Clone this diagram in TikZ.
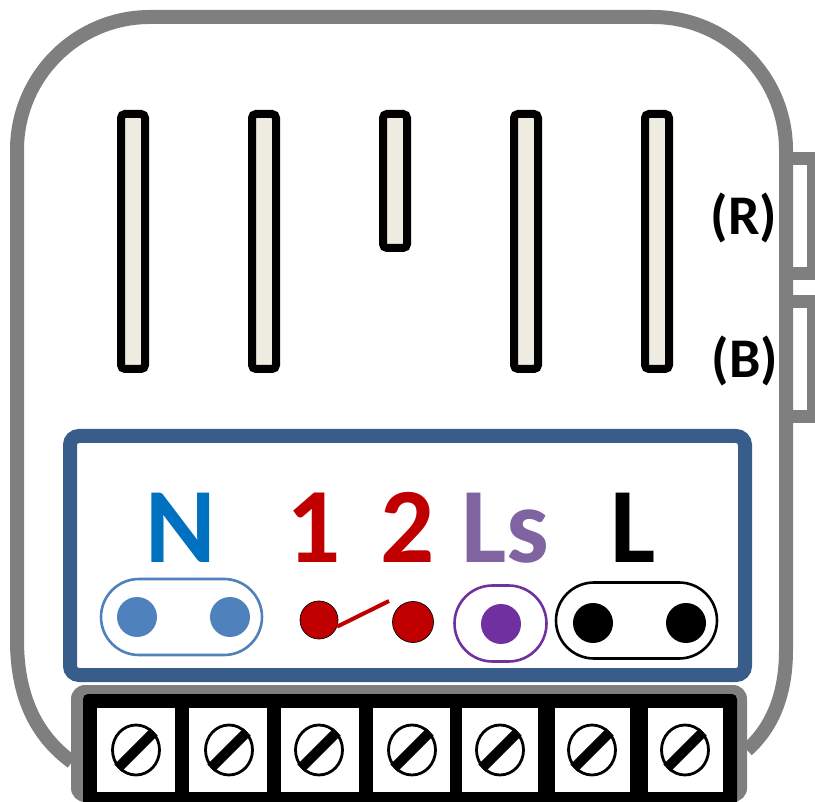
\documentclass[tikz,border=0pt]{standalone}
\usepackage{fontspec}
\setmainfont{Carlito}
\usetikzlibrary{shapes.geometric}
\definecolor{casegray}{HTML}{7F7F7F}
\definecolor{panelblue}{HTML}{385D8A}
\definecolor{barfill}{HTML}{EEECE1}
\definecolor{nblue}{HTML}{0070C0}
\definecolor{pinblue}{HTML}{4F81BD}
\definecolor{relred}{HTML}{C00000}
\definecolor{lspurple}{HTML}{8064A2}
\definecolor{pinpurple}{HTML}{7030A0}
\tikzset{
  slotbar/.style={draw=black, fill=barfill, line width=8pt, rounded corners=4pt, minimum width=24pt, inner sep=0pt},
  pin/.style={circle, inner sep=0pt, minimum size=40pt},
  loopbox/.style={draw, line width=2.6pt, rounded corners=38pt, inner sep=0pt, minimum height=76pt},
  termlabel/.style={anchor=base, inner sep=0pt, font=\bfseries\fontsize{107}{107}\selectfont},
  sidelabel/.style={anchor=center, inner sep=0pt, font=\bfseries\fontsize{56}{56}\selectfont},
  screwcell/.style={fill=white, inner sep=0pt, minimum height=84pt},
  screw/.style={ellipse, draw=black, fill=white, line width=2.8pt, inner sep=0pt, minimum width=47pt, minimum height=50pt}
}
\begin{document}
\begin{tikzpicture}[x=1pt, y=-1pt]
  \useasboundingbox (0,0) rectangle (815,802);
  \clip (0,0) rectangle (815,802);
  % case
  \coordinate (caseL) at (72,762);
  \coordinate (caseR) at (747,750);
  \draw[casegray, line width=14pt] (caseL) .. controls (35,735) and (17,695) .. (17,640)
    [rounded corners=133pt] -- (17,17) -- (786,17) -- (786,400) [sharp corners] -- (786,650)
    .. controls (786,690) and (775,725) .. (caseR);
  \draw[casegray, line width=13pt] (786,158.5) -- (813.5,158.5) -- (813.5,273.5) -- (786,273.5);
  \draw[casegray, line width=13pt] (786,301.5) -- (813.5,301.5) -- (813.5,416.5) -- (786,416.5);
  \node (labR) at (744,218) [sidelabel] {(R)};
  \node (labB) at (745,361) [sidelabel] {(B)};
  % bars
  \foreach \i/\x/\ymid/\len in {1/133/241.5/255, 2/264/241.5/255, 3/395/181/134, 4/526/241.5/255, 5/657/241.5/255}
    \node (bar\i) at (\x,\ymid) [slotbar, minimum height=\len pt] {};
  % panel
  \node (panel) at (407.5,555.5) [draw=panelblue, fill=white, line width=14pt, rounded corners=9pt, inner sep=0pt, minimum width=675pt, minimum height=239pt] {};
  \node (labN) at (180.5,562) [termlabel, text=nblue] {N};
  \node (lab1) at (314,562) [termlabel, text=relred] {1};
  \node (lab2) at (408,562) [termlabel, text=relred] {2};
  \node (labLs) at (505,562) [termlabel, text=lspurple] {Ls};
  \node (labL) at (633,562) [termlabel, text=black] {L};
  \node (loopN) at (181.5,617) [loopbox, draw=pinblue, minimum width=161pt] {};
  \node (loopLs) at (500.5,623.5) [loopbox, draw=pinpurple, minimum width=92pt] {};
  \node (loopL) at (636.5,620.5) [loopbox, draw=black, minimum width=161pt] {};
  \node (n1) at (137,617) [pin, fill=pinblue] {};
  \node (n2) at (230,617) [pin, fill=pinblue] {};
  \node (r1) at (319,620) [pin, fill=relred, draw=black, line width=0.7pt, minimum size=38pt] {};
  \node (r2) at (413,622) [pin, fill=relred, draw=black, line width=0.7pt, minimum size=41pt] {};
  \node (ls) at (501,624) [pin, fill=pinpurple] {};
  \node (l1) at (593,623) [pin, fill=black] {};
  \node (l2) at (686,623) [pin, fill=black] {};
  \coordinate (swtip) at (389,601);
  \draw[relred, line width=4pt] (r1.-20) -- (swtip);
  % terminal block
  \node (block) at (409,743.5) [fill=casegray, rounded corners=14pt, inner sep=0pt, minimum width=676pt, minimum height=117pt] {};
  \node (strip) at (410,753) [fill=black, rounded corners=5pt, inner sep=0pt, minimum width=654pt, minimum height=118pt] {};
  \foreach \i/\x/\w/\c in {1/136/78/136, 2/228/78/229, 3/320/78/319, 4/411/77/412, 5/500/76/500, 6/592.5/75/592, 7/685.5/75/685} {
    \node (cell\i) at (\x,750) [screwcell, minimum width=\w pt] {};
    \node (s\i) at (\c,750) [screw] {};
    \draw[line width=10pt] (s\i.45) -- (s\i.225);
  }
\end{tikzpicture}
\end{document}
